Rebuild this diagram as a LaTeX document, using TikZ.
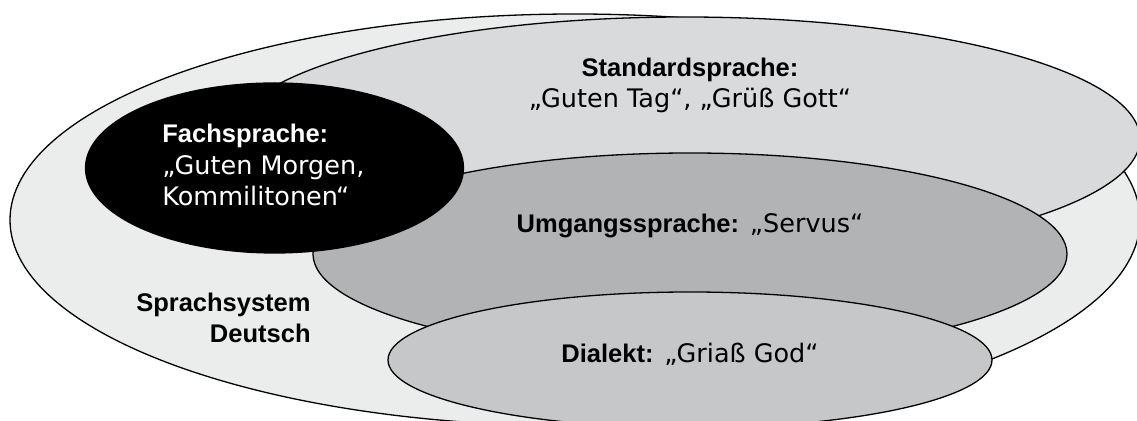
\documentclass[tikz,border=0pt]{standalone}
\usepackage{fontspec}
\setmainfont{DejaVu Sans}[BoldFont={Liberation Sans Bold}]
\usetikzlibrary{shapes.geometric}
\definecolor{systemgray}{HTML}{EBECEC}
\definecolor{standardgray}{HTML}{D9DADC}
\definecolor{umganggray}{HTML}{B2B3B5}
\definecolor{dialektgray}{HTML}{C6C7C9}

\begin{document}
\begin{tikzpicture}[x=0.5pt, y=-0.5pt]
	\tikzstyle{blob}=[ellipse, draw=black, line width=0.65pt, inner sep=0pt]
	\tikzstyle{annot}=[font=\fontsize{12.75}{15.75}\selectfont, inner sep=0pt]
	\useasboundingbox (0,0) rectangle (1137,421);

	% Draw the ellipses, back to front
	\node[blob, fill=systemgray, minimum width=565pt, minimum height=206pt] (system) at (575,220) {};
	\node[blob, fill=standardgray, minimum width=455pt, minimum height=122pt] (standard) at (685,139) {};
	\node[blob, fill=umganggray, minimum width=377pt, minimum height=101pt] (umgang) at (690,254) {};
	\node[blob, fill=dialektgray, minimum width=302pt, minimum height=68pt] (dialekt) at (690,360) {};
	\node[blob, fill=black, minimum width=189pt, minimum height=85pt] (fach) at (274.5,168) {};

	% Draw the texts (base = last line)
	\node[annot, anchor=base, align=center] (standardtext) at (690,108) {\textbf{Standardsprache:}\\„Guten Tag“, „Grüß Gott“};
	\node[annot, anchor=base west, align=left, text=white] (fachtext) at (162,206) {\textbf{Fachsprache:}\\„Guten Morgen,\\Kommilitonen“};
	\node[annot, anchor=base] (umgangtext) at (690,233) {\textbf{Umgangssprache:} „Servus“};
	\node[annot, anchor=base] (dialekttext) at (690,363) {\textbf{Dialekt:} „Griaß God“};
	\node[annot, anchor=base east, align=right] (systemtext) at (311,343) {\textbf{Sprachsystem}\\\textbf{Deutsch}};

\end{tikzpicture}
\end{document}
